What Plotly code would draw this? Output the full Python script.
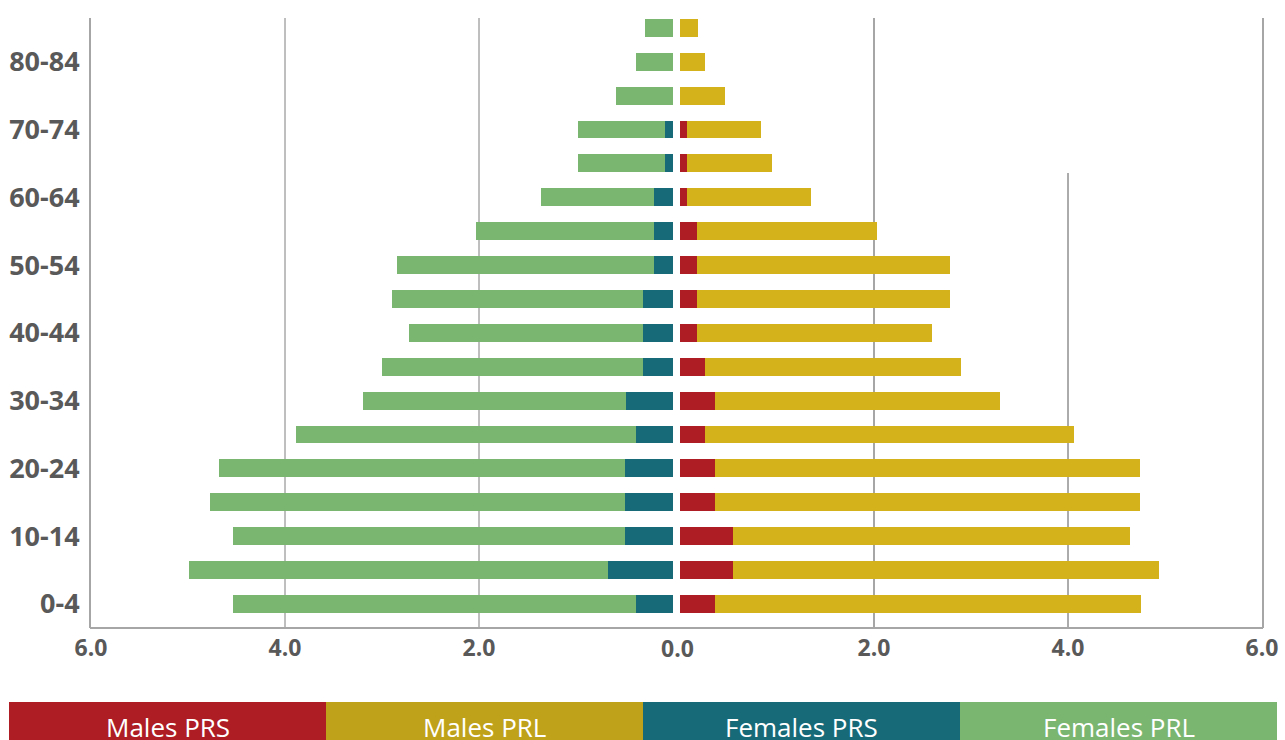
import plotly.graph_objects as go

ages = ["0-4", "5-9", "10-14", "15-19", "20-24", "25-29", "30-34", "35-39", "40-44",
        "45-49", "50-54", "55-59", "60-64", "65-69", "70-74", "75-79", "80-84", "85+"]
shown_ticks = ["0-4", "10-14", "20-24", "30-34", "40-44", "50-54", "60-64", "70-74", "80-84"]

females_total = [4.54, 4.99, 4.54, 4.77, 4.68, 3.89, 3.20, 3.00, 2.72,
                 2.90, 2.85, 2.03, 1.36, 0.98, 0.98, 0.59, 0.38, 0.29]
females_prs = [0.38, 0.67, 0.49, 0.49, 0.49, 0.38, 0.48, 0.31, 0.31,
               0.31, 0.20, 0.20, 0.20, 0.08, 0.08, 0.0, 0.0, 0.0]
females_prl = [round(t - p, 2) for t, p in zip(females_total, females_prs)]

males_total = [4.75, 4.94, 4.64, 4.74, 4.74, 4.06, 3.30, 2.90, 2.60,
               2.78, 2.78, 2.03, 1.35, 0.95, 0.84, 0.46, 0.26, 0.19]
males_prs = [0.36, 0.55, 0.55, 0.36, 0.36, 0.26, 0.36, 0.26, 0.18,
             0.18, 0.18, 0.18, 0.07, 0.07, 0.07, 0.0, 0.0, 0.0]
males_prl = [round(t - p, 2) for t, p in zip(males_total, males_prs)]

x_ticks = [2, 4, 6]
x_tick_text = ["2.0", "4.0", "6.0"]
zero_label = "0.0"
legend_names = ["Males PRS", "Males PRL", "Females PRS", "Females PRL"]

C_RED = "#AE1C24"
C_GOLD = "#D4B21C"
C_TEAL = "#176A78"
C_GREEN = "#7BB671"
LEG_COLORS = ["#AE1C24", "#BFA21A", "#176A78", "#7BB671"]

W, H = 1285, 740
fig = go.Figure()

fig.add_trace(go.Bar(y=ages, x=females_prs, orientation="h", marker=dict(color=C_TEAL, line=dict(width=0)),
                     name="Females PRS", xaxis="x", yaxis="y"))
fig.add_trace(go.Bar(y=ages, x=females_prl, orientation="h", marker=dict(color=C_GREEN, line=dict(width=0)),
                     name="Females PRL", xaxis="x", yaxis="y"))
fig.add_trace(go.Bar(y=ages, x=males_prs, orientation="h", marker=dict(color=C_RED, line=dict(width=0)),
                     name="Males PRS", xaxis="x2", yaxis="y2"))
fig.add_trace(go.Bar(y=ages, x=males_prl, orientation="h", marker=dict(color=C_GOLD, line=dict(width=0)),
                     name="Males PRL", xaxis="x2", yaxis="y2"))

ydom = [1 - 628 / H, 1 - 18 / H]
yrange = [-0.71, 17.29]
tickfont_x = dict(family="Open Sans", size=23, color="#595959", weight="bold")
tickfont_y = dict(family="Open Sans", size=27, color="#595959", weight="bold")

fig.update_layout(
    width=W, height=H,
    margin=dict(l=0, r=0, t=0, b=0, autoexpand=False),
    paper_bgcolor="white", plot_bgcolor="white",
    barmode="stack", bargap=0.47, showlegend=False,
    xaxis=dict(domain=[91 / W, 673 / W], range=[6, 0], tickvals=x_ticks, ticktext=x_tick_text,
               showgrid=False, zeroline=False, showline=False, automargin=False,
               ticks="", tickfont=tickfont_x, ticklabelstandoff=4, anchor="y", fixedrange=True),
    xaxis2=dict(domain=[680 / W, 1262 / W], range=[0, 6], tickvals=x_ticks, ticktext=x_tick_text,
                showgrid=False, zeroline=False, showline=False, automargin=False,
                ticks="", tickfont=tickfont_x, ticklabelstandoff=4, anchor="y2", fixedrange=True),
    yaxis=dict(domain=ydom, type="category", categoryorder="array", categoryarray=ages,
               range=yrange, tickvals=shown_ticks, ticktext=shown_ticks, automargin=False,
               showgrid=False, zeroline=False, showline=True, linecolor="#A6A6A6", linewidth=2,
               ticks="", tickfont=tickfont_y, ticklabelstandoff=4, anchor="x", fixedrange=True),
    yaxis2=dict(domain=ydom, type="category", categoryorder="array", categoryarray=ages,
                range=yrange, showticklabels=False, side="right", automargin=False,
                showgrid=False, zeroline=False, showline=True, linecolor="#A6A6A6", linewidth=2,
                ticks="", anchor="x2", fixedrange=True),
)

shapes = []
# continuous bottom axis line
shapes.append(dict(type="line", xref="paper", yref="paper", x0=90 / W, x1=1263 / W,
                   y0=(H - 628) / H, y1=(H - 628) / H, line=dict(color="#A6A6A6", width=2)))
# gridlines
for v in [2, 4]:
    shapes.append(dict(type="line", xref="x", yref="y domain", x0=v, x1=v, y0=0, y1=1,
                       line=dict(color="#7F7F7F", width=1), layer="below"))
shapes.append(dict(type="line", xref="x2", yref="y2 domain", x0=2, x1=2, y0=0, y1=1,
                   line=dict(color="#A6A6A6", width=2), layer="below"))
shapes.append(dict(type="line", xref="x2", yref="y2 domain", x0=4, x1=4, y0=0, y1=(628 - 173) / 610,
                   line=dict(color="#595959", width=1), layer="below"))

annotations = [dict(text=zero_label, xref="paper", yref="paper", x=677 / W, y=(H - 648) / H,
                    xanchor="center", yanchor="middle", showarrow=False, font=tickfont_x)]

# legend boxes
leg_x = [9, 326, 643, 960, 1277]
for i, name in enumerate(legend_names):
    shapes.append(dict(type="rect", xref="paper", yref="paper",
                       x0=leg_x[i] / W, x1=leg_x[i + 1] / W, y0=-0.05, y1=(H - 702) / H,
                       fillcolor=LEG_COLORS[i], line=dict(width=0)))
    annotations.append(dict(text=name, xref="paper", yref="paper",
                            x=(leg_x[i] + leg_x[i + 1]) / 2 / W, y=(H - 727) / H,
                            xanchor="center", yanchor="middle", showarrow=False,
                            font=dict(family="Open Sans", size=26, color="white")))

fig.update_layout(shapes=shapes, annotations=annotations)
fig.write_html("out.html", config={"displayModeBar": False},
               post_script="document.body.style.margin='0';document.body.style.overflow='hidden';")
